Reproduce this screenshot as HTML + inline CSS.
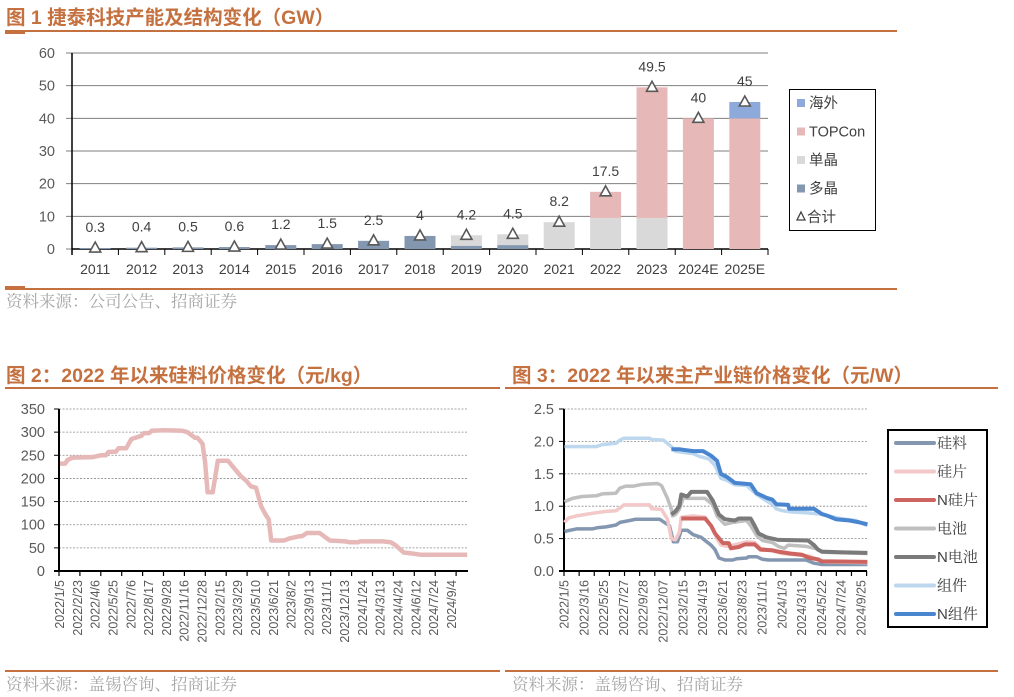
<!DOCTYPE html>
<html><head><meta charset="utf-8">
<style>
html,body{margin:0;padding:0;background:#fff;}
svg{display:block;font-family:"Liberation Sans","Noto Sans CJK SC",sans-serif;}
.ttl{font-size:19.5px;font-weight:bold;fill:#c5703f;}
.src{font-size:16.5px;fill:#a6a6a6;font-family:"Noto Serif CJK SC","Liberation Serif",serif;}
.tk{font-size:14px;fill:#404040;}
.yk{font-size:14.5px;fill:#595959;}
.lg{font-size:14.5px;fill:#404040;}
</style></head>
<body>
<svg id="s" width="1014" height="697" viewBox="0 0 1014 697">
<text class="ttl" x="6" y="24">图 1  捷泰科技产能及结构变化（GW）</text>
<rect x="5" y="30" width="892" height="2" fill="#c5703f"/>
<rect x="5" y="32" width="20" height="2" fill="#c5703f"/>
<rect x="5" y="288" width="892" height="2" fill="#c5703f"/>
<rect x="5" y="286" width="20" height="2" fill="#c5703f"/>
<text class="src" x="6" y="307">资料来源：公司公告、招商证券</text>
<g id="c1"></g>

<text class="ttl" x="6" y="382">图 2：2022 年以来硅料价格变化（元/kg）</text>
<rect x="5" y="387" width="495" height="2" fill="#c5703f"/>
<rect x="5" y="670" width="495" height="2" fill="#c5703f"/>
<text class="src" x="6" y="690">资料来源：盖锡咨询、招商证券</text>
<g id="c2"></g>

<text class="ttl" x="512" y="382">图 3：2022 年以来主产业链价格变化（元/W）</text>
<rect x="505" y="387" width="493" height="2" fill="#c5703f"/>
<rect x="505" y="670" width="493" height="2" fill="#c5703f"/>
<text class="src" x="512" y="690">资料来源：盖锡咨询、招商证券</text>
<g id="c3"></g>
</svg>
<script>
// ---------- Chart 1 data ----------
const c1Years = ["2011","2012","2013","2014","2015","2016","2017","2018","2019","2020","2021","2022","2023","2024E","2025E"];
const c1Multi = [0.3,0.4,0.5,0.6,1.2,1.5,2.5,4,1,1.2,0,0,0,0,0];
const c1Mono = [0,0,0,0,0,0,0,0,3.2,3.3,8.2,9.5,9.5,0,0];
const c1Topcon = [0,0,0,0,0,0,0,0,0,0,0,8,40,40,40];
const c1Overseas = [0,0,0,0,0,0,0,0,0,0,0,0,0,0,5];
const c1Total = [0.3,0.4,0.5,0.6,1.2,1.5,2.5,4,4.2,4.5,8.2,17.5,49.5,40,45];
const c1Ticks = [0,10,20,30,40,50,60];

// ---------- Chart 2 data ----------
const c2Labels = ["2022/1/5","2022/2/23","2022/4/6","2022/5/25","2022/7/6","2022/8/17","2022/9/28","2022/11/16","2022/12/28","2023/2/15","2023/3/29","2023/5/10","2023/6/21","2023/8/2","2023/9/13","2023/11/1","2023/12/13","2024/1/24","2024/3/13","2024/4/24","2024/6/12","2024/7/24","2024/9/4"];
const c2Ticks = [0,50,100,150,200,250,300,350];
const c2Week = [0,2,3,5,13,16,18,19,22,23,26,28,32,33,35,36,41,48,50,53,54,56,57,58,60,62,66,68,71,73,75,77,79,81,82,83,88,90,94,95,97,102,105,106,112,114,117,118,127,130,132,135,138,142,160];
const c2Price = [232,232,240,245,246,250,250,257,258,265,265,285,292,298,298,303,304,303,300,288,288,275,235,170,170,238,238,225,205,196,183,180,140,120,112,66,66,70,75,75,82,82,70,66,64,62,62,64,64,62,55,40,38,35,35];

// ---------- Chart 3 data ----------
const c3Labels = ["2022/1/5","2022/3/16","2022/5/25","2022/7/27","2022/9/28","2022/12/07","2023/2/15","2023/4/19","2023/6/21","2023/8/23","2023/11/1","2024/1/3","2024/3/13","2024/5/22","2024/7/24","2024/9/25"];
const c3Ticks = ["0.0","0.5","1.0","1.5","2.0","2.5"];
const polyW = [0,3,6,14,17,21,26,28,33,36,48,50,53,55,57,59,62,65,69,71,74,76,78,81,85,87,92,93,97,100,103,122,126,130,153];
const polyV = [0.61,0.63,0.65,0.65,0.67,0.68,0.71,0.75,0.78,0.80,0.80,0.76,0.70,0.45,0.45,0.63,0.63,0.56,0.52,0.47,0.40,0.33,0.20,0.17,0.17,0.19,0.20,0.22,0.22,0.18,0.17,0.17,0.12,0.10,0.10];
const waferW = [0,2,6,14,21,26,28,30,43,44,49,52,54,56,58,59,65,71,75,77,79,82,88,92,96,99,105,110,117,124,128,132,153];
const waferV = [0.75,0.82,0.85,0.89,0.92,0.93,0.97,1.02,1.02,0.96,0.95,0.80,0.50,0.48,0.60,0.83,0.85,0.83,0.65,0.50,0.40,0.38,0.42,0.45,0.44,0.35,0.31,0.27,0.25,0.23,0.17,0.14,0.13];
const nWaferW = [59,71,74,76,80,83,84,88,91,96,99,105,108,114,120,124,128,130,153];
const nWaferV = [0.81,0.81,0.70,0.58,0.43,0.43,0.35,0.37,0.41,0.41,0.33,0.32,0.30,0.27,0.25,0.20,0.18,0.15,0.14];
const cellW = [0,4,9,16,19,26,28,31,35,38,40,47,49,52,54,54.5,56,58,60,62,71,75,77,80,81,85,92,94,97,100,105,108,111,113,122,128,130,153];
const cellV = [1.07,1.12,1.15,1.16,1.19,1.20,1.28,1.31,1.31,1.33,1.34,1.35,1.32,1.12,0.95,0.85,0.87,0.95,1.13,1.12,1.12,1.02,0.85,0.75,0.72,0.75,0.78,0.70,0.55,0.47,0.44,0.38,0.35,0.40,0.38,0.34,0.29,0.27];
const nCellW = [54,56,58,59,62,64,72,75,78,81,86,88,94,96,98,102,108,123,126,128,130,139,153];
const nCellV = [0.87,0.92,1.00,1.18,1.15,1.22,1.22,1.08,0.87,0.80,0.78,0.81,0.81,0.70,0.58,0.52,0.48,0.47,0.40,0.33,0.30,0.29,0.28];
const modW = [0,16,19,26,28,30,43,44,50,54,56,60,65,68,73,76,79,82,86,92,97,102,105,107,110,115,122,129,139,147,153];
const modV = [1.92,1.92,1.95,1.97,2.02,2.05,2.05,2.03,2.02,1.92,1.85,1.83,1.81,1.77,1.73,1.63,1.43,1.40,1.33,1.32,1.18,1.08,1.03,0.96,0.93,0.91,0.90,0.88,0.81,0.78,0.70];
const nModW = [54,58,60,65,70,74,77,79,82,86,94,97,102,105,107,113,113.5,126,130,133,137,144,149,153];
const nModV = [1.88,1.88,1.87,1.85,1.85,1.78,1.70,1.50,1.45,1.36,1.34,1.20,1.13,1.10,1.03,1.02,0.96,0.96,0.88,0.85,0.80,0.78,0.75,0.72];

const NS = "http://www.w3.org/2000/svg";
function mk(parent, tag, attrs, txt){
  const e = document.createElementNS(NS, tag);
  for (const k in attrs) e.setAttribute(k, attrs[k]);
  if (txt !== undefined) e.textContent = txt;
  parent.appendChild(e);
  return e;
}

// ---------- Chart 1 ----------
(function(){
  const g = document.getElementById('c1');
  const x0 = 72, x1 = 768, yB = 249, yT = 53, vMax = 60;
  const y = v => yB - v / vMax * (yB - yT);
  const bw = (x1 - x0) / c1Years.length;
  const cx = i => x0 + bw * (i + 0.5);
  c1Ticks.forEach(t => {
    const gl = mk(g, 'line', {x1: x0 - 6, x2: x1, y1: y(t), y2: y(t), stroke: '#7f7f7f', 'stroke-width': 1});
    
    
    const tl = mk(g, 'text', {x: x0 - 17, y: y(t) + 5, 'text-anchor': 'end', class: 'yk'}, t);
    
    
  });
  const ax = mk(g, 'line', {x1: x0, x2: x0, y1: yT, y2: yB + 6, stroke: '#000', 'stroke-width': 1.5});
  
  
  const bx = mk(g, 'line', {x1: x0, x2: x1, y1: yB, y2: yB, stroke: '#000', 'stroke-width': 1.5});
  
  
  const series = [[c1Multi,'#8497b0','bar-multi'],[c1Mono,'#d9d9d9','bar-mono'],[c1Topcon,'#e6b9b8','bar-topcon'],[c1Overseas,'#8eaadb','bar-overseas']];
  c1Years.forEach((yr, i) => {
    const tk = mk(g, 'line', {x1: x0 + bw * (i + 1), x2: x0 + bw * (i + 1), y1: yB, y2: yB + 6, stroke: '#000', 'stroke-width': 1});
    
    
    let acc = 0;
    series.forEach(s => {
      const v = s[0][i];
      if (v > 0) {
        const r = mk(g, 'rect', {x: cx(i) - 15.5, y: y(acc + v), width: 31, height: y(acc) - y(acc + v), fill: s[1]});
        
        
      }
      acc += v;
    });
    const tv = y(c1Total[i]);
    const tri = mk(g, 'path', {d: `M${cx(i)},${tv - 6} L${cx(i) + 5.5},${tv + 4} L${cx(i) - 5.5},${tv + 4} Z`, fill: '#fff', stroke: '#595959', 'stroke-width': 1.6});
    
    
    const vl = mk(g, 'text', {x: cx(i), y: tv - 16, 'text-anchor': 'middle', class: 'tk'}, c1Total[i]);
    
    
    const xl = mk(g, 'text', {x: cx(i), y: 274, 'text-anchor': 'middle', class: 'tk'}, yr);
    
    
  });
  const lg = mk(g, 'g', {});
  
  
  mk(lg, 'rect', {x: 789.5, y: 89.5, width: 86, height: 141, fill: '#fff', stroke: '#000', 'stroke-width': 1});
  const items = [['海外','#8eaadb'],['TOPCon','#e6b9b8'],['单晶','#d9d9d9'],['多晶','#8497b0']];
  items.forEach((it, k) => {
    const ly = 103 + k * 28.5;
    const e = mk(lg, 'g', {});
    
    
    mk(e, 'rect', {x: 797, y: ly - 4, width: 8, height: 8, fill: it[1]});
    mk(e, 'text', {x: 809, y: ly + 5, class: 'lg'}, it[0]);
  });
  const e = mk(lg, 'g', {});
  
  
  mk(e, 'path', {d: 'M801,212 L805,220 L797,220 Z', fill: '#fff', stroke: '#404040', 'stroke-width': 1.3});
  mk(e, 'text', {x: 807, y: 222, class: 'lg'}, '合计');
})();

// ---------- Chart 2 ----------
(function(){
  const g = document.getElementById('c2');
  const x0 = 59, x1 = 468, yB = 571, yT = 409, vMax = 350;
  const y = v => yB - v / vMax * (yB - yT);
  const xw = w => 60 + w * 2.545;
  c2Ticks.forEach(t => {
    if (t > 0) {
      const gl = mk(g, 'line', {x1: x0, x2: x1, y1: y(t), y2: y(t), stroke: '#8c8c8c', 'stroke-width': 0.8, 'stroke-dasharray': '2,1.5'});
      
      
    }
    const tk = mk(g, 'line', {x1: x0 - 5, x2: x0, y1: y(t), y2: y(t), stroke: '#000', 'stroke-width': 1});
    
    
    const tl = mk(g, 'text', {x: x0 - 14, y: y(t) + 5, 'text-anchor': 'end', class: 'yk'}, t);
    
    
  });
  for (let xx = x0; xx <= x1 + 1; xx += 20.9) {
    const tk = mk(g, 'line', {x1: xx, x2: xx, y1: yB, y2: yB + 5, stroke: '#000', 'stroke-width': 1.2});
    
    
  }
  const ax = mk(g, 'line', {x1: x0, x2: x0, y1: yT, y2: yB, stroke: '#000', 'stroke-width': 2});
  
  
  const bx = mk(g, 'line', {x1: x0 - 5, x2: x1, y1: yB, y2: yB, stroke: '#000', 'stroke-width': 2});
  
  
  c2Labels.forEach((l, i) => {
    const lx = xw(i * 7) + 4;
    const t = mk(g, 'text', {x: 0, y: 0, 'text-anchor': 'end', transform: `translate(${lx},580) rotate(-90)`, style: 'font-size:12.5px;fill:#595959'}, l);
    
    
  });
  const pts = c2Week.map((w, i) => `${xw(w).toFixed(1)},${y(c2Price[i]).toFixed(1)}`).join(' ');
  const pl = mk(g, 'polyline', {points: pts, fill: 'none', stroke: '#e6b9b8', 'stroke-width': 4.5, 'stroke-linejoin': 'round'});
  
  
})();

// ---------- Chart 3 ----------
(function(){
  const g = document.getElementById('c3');
  const x0 = 564, x1 = 867, yB = 571, yT = 409, vMax = 2.5;
  const y = v => yB - v / vMax * (yB - yT);
  const xw = w => x0 + 0.5 + w * 1.98;
  c3Ticks.forEach(t => {
    const v = parseFloat(t);
    if (v > 0) {
      const gl = mk(g, 'line', {x1: x0, x2: x1, y1: y(v), y2: y(v), stroke: '#8c8c8c', 'stroke-width': 0.8, 'stroke-dasharray': '2,1.5'});
      
      
    }
    const tk = mk(g, 'line', {x1: x0 - 5, x2: x0, y1: y(v), y2: y(v), stroke: '#000', 'stroke-width': 1});
    
    
    const tl = mk(g, 'text', {x: x0 - 10, y: y(v) + 5, 'text-anchor': 'end', class: 'yk'}, t);
    
    
  });
  for (let xx = x0; xx <= x1 + 1; xx += 15.13) {
    const tk = mk(g, 'line', {x1: xx, x2: xx, y1: yB, y2: yB + 5, stroke: '#000', 'stroke-width': 1.2});
    
    
  }
  const ax = mk(g, 'line', {x1: x0, x2: x0, y1: yT, y2: yB, stroke: '#000', 'stroke-width': 2});
  
  
  const bx = mk(g, 'line', {x1: x0 - 5, x2: x1, y1: yB, y2: yB, stroke: '#000', 'stroke-width': 2});
  
  
  c3Labels.forEach((l, i) => {
    const lx = xw(i * 10) + 4;
    const t = mk(g, 'text', {x: 0, y: 0, 'text-anchor': 'end', transform: `translate(${lx},580) rotate(-90)`, style: 'font-size:12.5px;fill:#595959'}, l);
    
    
  });
  const series = [
    [polyW, polyV, '#8497b0', 3.5, '硅料', 'polysilicon-line'],
    [waferW, waferV, '#f2c8c8', 3.5, '硅片', 'wafer-line'],
    [nWaferW, nWaferV, '#cd6460', 4, 'N硅片', 'n-wafer-line'],
    [cellW, cellV, '#bfbfbf', 3.5, '电池', 'cell-line'],
    [nCellW, nCellV, '#7a7a7a', 4, 'N电池', 'n-cell-line'],
    [modW, modV, '#bdd7ee', 3.5, '组件', 'module-line'],
    [nModW, nModV, '#4a86d0', 4, 'N组件', 'n-module-line']
  ];
  series.forEach(s => {
    const pts = s[0].map((w, i) => `${xw(w).toFixed(1)},${y(s[1][i]).toFixed(1)}`).join(' ');
    const pl = mk(g, 'polyline', {points: pts, fill: 'none', stroke: s[2], 'stroke-width': s[3], 'stroke-linejoin': 'round'});
    
    
  });
  const lg = mk(g, 'g', {});
  
  
  mk(lg, 'rect', {x: 888, y: 430, width: 99, height: 197, fill: '#fff', stroke: '#000', 'stroke-width': 2});
  series.forEach((s, k) => {
    const ly = 443 + k * 28.5;
    const e = mk(lg, 'g', {});
    
    
    mk(e, 'line', {x1: 896, x2: 934, y1: ly, y2: ly, stroke: s[2], 'stroke-width': 4, 'stroke-linecap': 'round'});
    mk(e, 'text', {x: 937, y: ly + 5, class: 'lg', style: 'font-size:15px;font-family:"Liberation Sans","Noto Serif CJK SC",serif'}, s[4]);
  });
})();
</script>
</body></html>
